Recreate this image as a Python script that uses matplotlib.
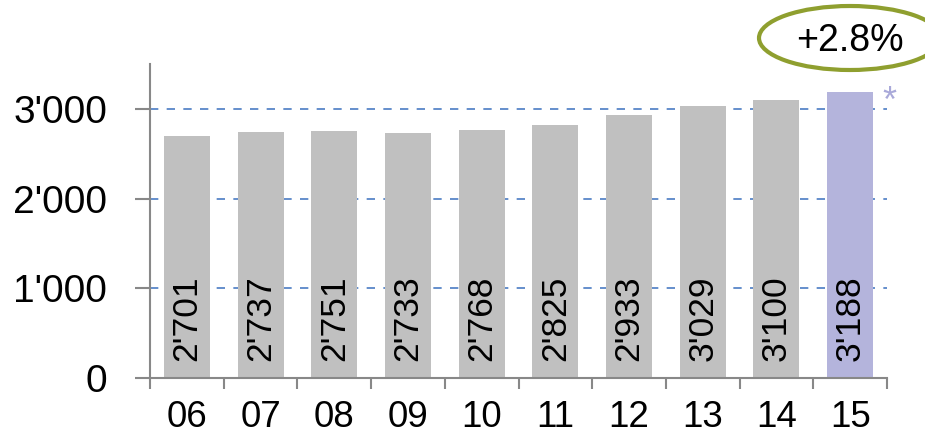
import matplotlib
matplotlib.use("Agg")
import matplotlib.pyplot as plt
from matplotlib.patches import Ellipse

years = ["06", "07", "08", "09", "10", "11", "12", "13", "14", "15"]
values = [2701, 2737, 2751, 2733, 2768, 2825, 2933, 3029, 3100, 3188]
value_labels = ["2'701", "2'737", "2'751", "2'733", "2'768", "2'825", "2'933", "3'029", "3'100", "3'188"]
yticks = [0, 1000, 2000, 3000]
ytick_labels = ["0", "1'000", "2'000", "3'000"]
growth_label = "+2.8%"

plt.rcParams['font.family'] = ['Liberation Sans', 'DejaVu Sans']

fig = plt.figure(figsize=(9.25, 4.38), dpi=100)
ax = fig.add_axes([150/925, 1-378/438, (887-150)/925, (378-64)/438])

colors = ["#c0c0c0"] * (len(values) - 1) + ["#b4b4dc"]
x = list(range(len(values)))
ax.bar(x, values, width=0.625, color=colors, zorder=2)

ax.set_xlim(-0.5, len(values) - 0.5)
ax.set_ylim(0, 3500)

for v in yticks[1:]:
    ax.axhline(v, color="#4a7cc4", lw=1.2, ls=(0, (5, 5)), zorder=1)

ax.set_yticks(yticks)
ax.set_yticklabels(ytick_labels, fontsize=28)
ax.set_xticks(x)
ax.set_xticklabels(years, fontsize=26.5)
ax.tick_params(axis='x', length=0, pad=16)
ax.tick_params(axis='y', length=11, width=1.5, color="#888888", pad=20)
ax.set_xticks([i - 0.5 for i in range(len(values) + 1)], minor=True)
ax.tick_params(axis='x', which='minor', length=8, width=1.5, color="#888888")

for s in ["top", "right"]:
    ax.spines[s].set_visible(False)
for s in ["left", "bottom"]:
    ax.spines[s].set_color("#888888")
    ax.spines[s].set_linewidth(1.5)

for xi, lab in zip(x, value_labels):
    ax.annotate(lab, (xi, 0), xytext=(0, 12), textcoords="offset points",
                rotation=90, ha="center", va="bottom", fontsize=25.5, color="black",
                zorder=3)

# asterisk
ax.annotate("*", (len(values) - 1 + 0.31, values[-1]), xytext=(7, -20), textcoords="offset points",
            fontsize=26, color="#a9a9d9", ha="left", va="bottom", annotation_clip=False)

# ellipse with growth label
ell = Ellipse((850/925, 1-38/438), 182/925, 64/438, transform=fig.transFigure,
              fill=False, edgecolor="#8f9f2f", lw=3)
fig.add_artist(ell)
fig.text(850/925, 1-41/438, growth_label, ha="center", va="center", fontsize=27)

fig.savefig("out.png", dpi=100)
